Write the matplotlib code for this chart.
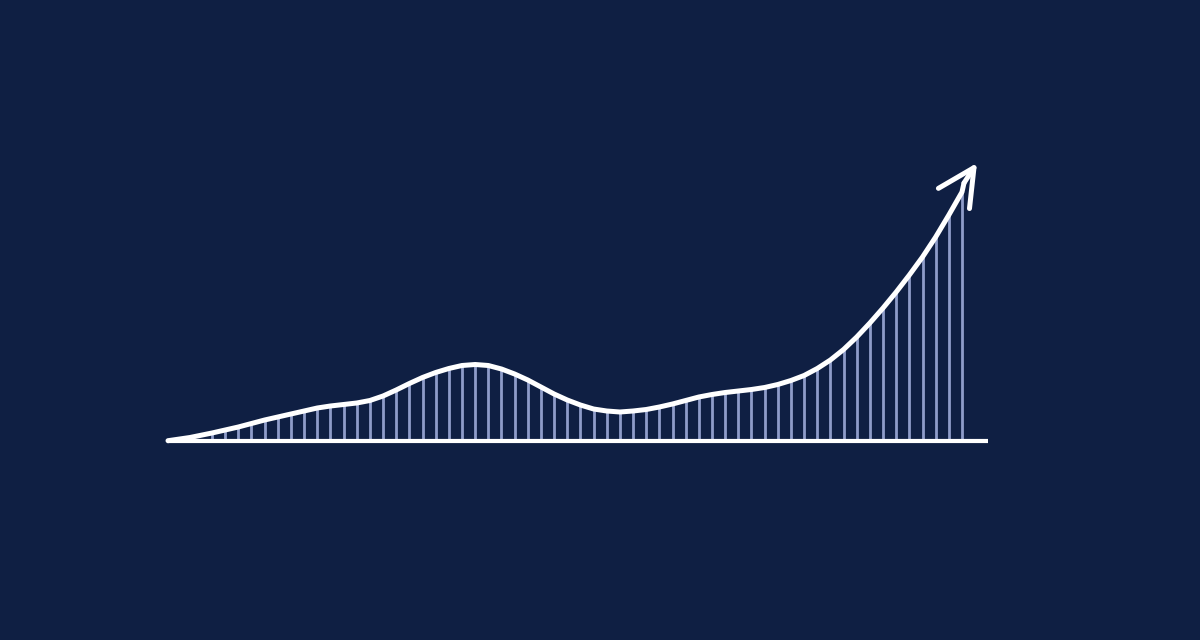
import numpy as np
import matplotlib
matplotlib.use("Agg")
import matplotlib.pyplot as plt

# heights of the vertical bars under the curve (baseline = 0)
bar_heights = [8, 11, 14, 17.5, 21, 24, 27, 30, 33, 35,
               36.5, 38, 40.5, 45, 51, 57.5, 63.5, 68.5, 72.5, 75.5,
               76.5, 75.5, 72, 67, 61, 54, 47, 41, 36, 32,
               30, 29, 30, 31.5, 34, 37, 40.5, 44, 46.5, 48.5,
               50, 51.5, 53.5, 56.5, 60.5, 65.5, 72.5, 81, 91.5, 104,
               118, 133, 149, 166, 184, 204, 226, 249]
bar_start, bar_end = 212, 962

# lead-in of the curve before the first bar, and the arrow tip
lead_x = [168, 190]
lead_h = [0.3, 3.5]
arrow_from = (964, 258)
arrow_tip = (977, 278)

bg = "#0f1f43"
bar_col = "#8e9cc9"

bar_x = np.linspace(bar_start, bar_end, len(bar_heights))

fig = plt.figure(figsize=(12, 6.4), dpi=100, facecolor=bg)
ax = fig.add_axes([0, 0, 1, 1], facecolor=bg)
ax.set_xlim(0, 1200)
ax.set_ylim(-199, 441)
ax.axis("off")

# bars
ax.vlines(bar_x, 0, bar_heights, colors=bar_col, linewidth=2.0, zorder=2)

# baseline
ax.plot([167, 988], [0, 0], color="white", linewidth=3.0,
        solid_capstyle="butt", zorder=3)

# curve
curve_x = list(lead_x) + list(bar_x) + [arrow_from[0]]
curve_h = list(lead_h) + list(bar_heights) + [arrow_from[1]]
ax.plot(curve_x, curve_h, color="white", linewidth=3.6,
        solid_capstyle="round", solid_joinstyle="round", zorder=4)

# arrow head
ax.annotate("", xy=arrow_tip, xytext=arrow_from,
            arrowprops=dict(arrowstyle="->,head_length=1.15,head_width=0.58",
                            color="white", linewidth=3.6, mutation_scale=23,
                            shrinkA=0, shrinkB=0, capstyle="round",
                            joinstyle="round"),
            zorder=5)

fig.savefig("out.png", dpi=100, facecolor=bg)
